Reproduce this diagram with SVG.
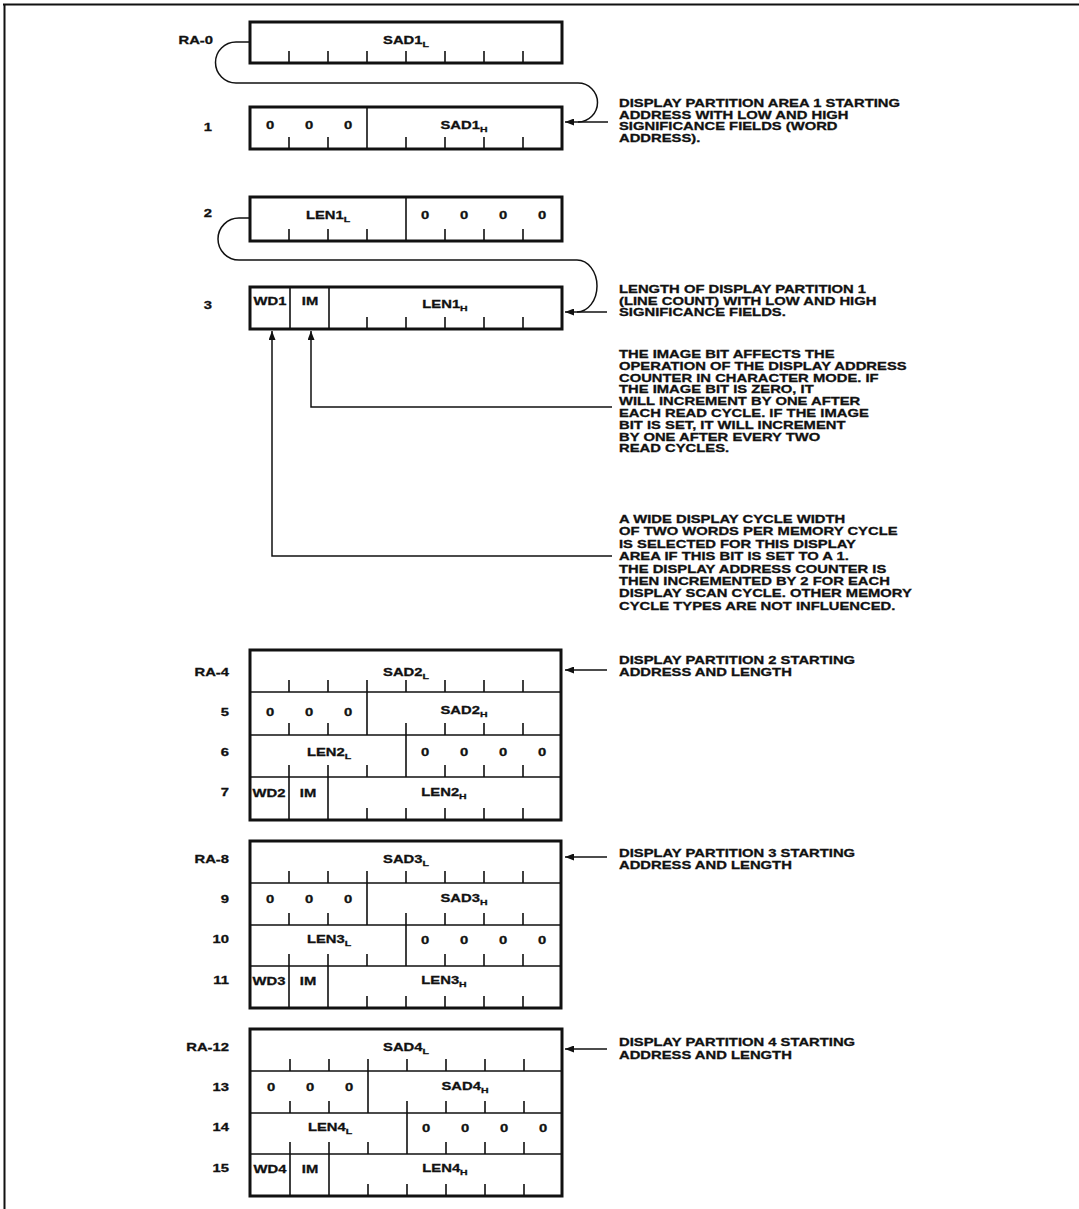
<svg xmlns="http://www.w3.org/2000/svg" width="1079" height="1209" viewBox="0 0 1079 1209">
<defs>
<style>
.t{font-family:"Liberation Sans",Arial,Helvetica,sans-serif;font-weight:bold;font-size:11.3px;fill:#111;stroke:#111;stroke-width:0.3}
.m{text-anchor:middle}
.e{text-anchor:end}
.s{font-size:8px}
.box{fill:#fff;stroke:#111;stroke-width:3}
.div{stroke:#111;stroke-width:1.6;fill:none}
.tk{stroke:#111;stroke-width:1.6}
.frame{stroke:#111;stroke-width:2;fill:none}
.cn{stroke:#111;stroke-width:1.5;fill:none}
</style>
<marker id="ah" markerWidth="9" markerHeight="7" refX="9" refY="3.5" orient="auto" markerUnits="userSpaceOnUse">
<path d="M0,0 L9,3.5 L0,7 z" fill="#111"/>
</marker>
</defs>
<rect width="1079" height="1209" fill="#fff"/>
<g id="frame">
<path class="frame" d="M3,4.5 H1079 M4.5,4 V1209"/>
</g>

<g id="connectors">
<path class="cn" d="M250,42 H236 A20.5,20.5 0 0 0 236,83 H578 A19.5,19.5 0 0 1 578,122"/>
<line class="cn" x1="608" y1="122" x2="565" y2="122" marker-end="url(#ah)"/>
<path class="cn" d="M250,218 H239 A21,21 0 0 0 239,260 H577 A20,26 0 0 1 577,312"/>
<line class="cn" x1="607" y1="312" x2="565" y2="312" marker-end="url(#ah)"/>
<path class="cn" d="M612,407 H311 V331" marker-end="url(#ah)"/>
<path class="cn" d="M612,556 H272 V331" marker-end="url(#ah)"/>
<line class="cn" x1="607" y1="670" x2="565" y2="670" marker-end="url(#ah)"/>
<line class="cn" x1="607" y1="857" x2="565" y2="857" marker-end="url(#ah)"/>
<line class="cn" x1="607" y1="1049" x2="565" y2="1049" marker-end="url(#ah)"/>
</g>

<g id="ra0">
<rect class="box" x="250" y="22" width="312" height="41"/>
<path class="tk" d="M289,51V63M328,51V63M367,51V63M406,51V63M445,51V63M484,51V63M523,51V63"/>
<text class="t e" transform="translate(213,44) scale(1.31,1)">RA-0</text>
<text class="t m" transform="translate(406,44) scale(1.31,1)">SAD1<tspan class="s" dy="3">L</tspan></text>
</g>
<g id="ra1">
<rect class="box" x="250" y="107" width="312" height="42"/>
<path class="div" d="M367,107V149"/>
<path class="tk" d="M289,137V149M328,137V149M406,137V149M445,137V149M484,137V149M523,137V149"/>
<text class="t e" transform="translate(212,131) scale(1.31,1)">1</text>
<text class="t m" transform="translate(270,129) scale(1.31,1)">0</text>
<text class="t m" transform="translate(309,129) scale(1.31,1)">0</text>
<text class="t m" transform="translate(348,129) scale(1.31,1)">0</text>
<text class="t m" transform="translate(464,129) scale(1.31,1)">SAD1<tspan class="s" dy="3">H</tspan></text>
</g>
<g id="ra2">
<rect class="box" x="250" y="197" width="312" height="44"/>
<path class="div" d="M406,197V241"/>
<path class="tk" d="M289,229V241M328,229V241M367,229V241M445,229V241M484,229V241M523,229V241"/>
<text class="t e" transform="translate(212,217) scale(1.31,1)">2</text>
<text class="t m" transform="translate(328,219) scale(1.31,1)">LEN1<tspan class="s" dy="3">L</tspan></text>
<text class="t m" transform="translate(425,219) scale(1.31,1)">0</text>
<text class="t m" transform="translate(464,219) scale(1.31,1)">0</text>
<text class="t m" transform="translate(503,219) scale(1.31,1)">0</text>
<text class="t m" transform="translate(542,219) scale(1.31,1)">0</text>
</g>
<g id="ra3">
<rect class="box" x="250" y="287" width="312" height="42"/>
<path class="div" d="M290,287V329M329,287V329"/>
<path class="tk" d="M367,317V329M406,317V329M445,317V329M484,317V329M523,317V329"/>
<text class="t e" transform="translate(212,309) scale(1.31,1)">3</text>
<text class="t m" transform="translate(270,305) scale(1.31,1)">WD1</text>
<text class="t m" transform="translate(310,305) scale(1.31,1)">IM</text>
<text class="t m" transform="translate(445,308) scale(1.31,1)">LEN1<tspan class="s" dy="3">H</tspan></text>
</g>

<g id="note1">
<text class="t" transform="translate(619,107) scale(1.31,1)">DISPLAY PARTITION AREA 1 STARTING</text>
<text class="t" transform="translate(619,118.7) scale(1.31,1)">ADDRESS WITH LOW AND HIGH</text>
<text class="t" transform="translate(619,130.4) scale(1.31,1)">SIGNIFICANCE FIELDS (WORD</text>
<text class="t" transform="translate(619,142.1) scale(1.31,1)">ADDRESS).</text>
</g>
<g id="note2">
<text class="t" transform="translate(619,293) scale(1.31,1)">LENGTH OF DISPLAY PARTITION 1</text>
<text class="t" transform="translate(619,304.7) scale(1.31,1)">(LINE COUNT) WITH LOW AND HIGH</text>
<text class="t" transform="translate(619,316.4) scale(1.31,1)">SIGNIFICANCE FIELDS.</text>
</g>
<g id="note3">
<text class="t" transform="translate(619,358) scale(1.31,1)">THE IMAGE BIT AFFECTS THE</text>
<text class="t" transform="translate(619,369.8) scale(1.31,1)">OPERATION OF THE DISPLAY ADDRESS</text>
<text class="t" transform="translate(619,381.6) scale(1.31,1)">COUNTER IN CHARACTER MODE. IF</text>
<text class="t" transform="translate(619,393.4) scale(1.31,1)">THE IMAGE BIT IS ZERO, IT</text>
<text class="t" transform="translate(619,405.2) scale(1.31,1)">WILL INCREMENT BY ONE AFTER</text>
<text class="t" transform="translate(619,417) scale(1.31,1)">EACH READ CYCLE. IF THE IMAGE</text>
<text class="t" transform="translate(619,428.8) scale(1.31,1)">BIT IS SET, IT WILL INCREMENT</text>
<text class="t" transform="translate(619,440.6) scale(1.31,1)">BY ONE AFTER EVERY TWO</text>
<text class="t" transform="translate(619,452.4) scale(1.31,1)">READ CYCLES.</text>
</g>
<g id="note4">
<text class="t" transform="translate(619,523) scale(1.31,1)">A WIDE DISPLAY CYCLE WIDTH</text>
<text class="t" transform="translate(619,535.4) scale(1.31,1)">OF TWO WORDS PER MEMORY CYCLE</text>
<text class="t" transform="translate(619,547.8) scale(1.31,1)">IS SELECTED FOR THIS DISPLAY</text>
<text class="t" transform="translate(619,560.2) scale(1.31,1)">AREA IF THIS BIT IS SET TO A 1.</text>
<text class="t" transform="translate(619,572.6) scale(1.31,1)">THE DISPLAY ADDRESS COUNTER IS</text>
<text class="t" transform="translate(619,585) scale(1.31,1)">THEN INCREMENTED BY 2 FOR EACH</text>
<text class="t" transform="translate(619,597.4) scale(1.31,1)">DISPLAY SCAN CYCLE. OTHER MEMORY</text>
<text class="t" transform="translate(619,609.8) scale(1.31,1)">CYCLE TYPES ARE NOT INFLUENCED.</text>
</g>

<g id="part2">
<rect class="box" x="250" y="650" width="311" height="170"/>
<path class="div" d="M250,692H561M250,735H561M250,777H561M367,692V735M406,735V777M289,777V820M328,777V820"/>
<path class="tk" d="M289,680V692M328,680V692M367,680V692M406,680V692M445,680V692M484,680V692M523,680V692
M289,723V735M328,723V735M406,723V735M445,723V735M484,723V735M523,723V735
M289,765V777M328,765V777M367,765V777M445,765V777M484,765V777M523,765V777
M367,808V820M406,808V820M445,808V820M484,808V820M523,808V820"/>
<text class="t e" transform="translate(229,676) scale(1.31,1)">RA-4</text>
<text class="t e" transform="translate(229,716) scale(1.31,1)">5</text>
<text class="t e" transform="translate(229,756) scale(1.31,1)">6</text>
<text class="t e" transform="translate(229,796) scale(1.31,1)">7</text>
<text class="t m" transform="translate(406,676) scale(1.31,1)">SAD2<tspan class="s" dy="3">L</tspan></text>
<text class="t m" transform="translate(270,716) scale(1.31,1)">0</text>
<text class="t m" transform="translate(309,716) scale(1.31,1)">0</text>
<text class="t m" transform="translate(348,716) scale(1.31,1)">0</text>
<text class="t m" transform="translate(464,714) scale(1.31,1)">SAD2<tspan class="s" dy="3">H</tspan></text>
<text class="t m" transform="translate(329,756) scale(1.31,1)">LEN2<tspan class="s" dy="3">L</tspan></text>
<text class="t m" transform="translate(425,756) scale(1.31,1)">0</text>
<text class="t m" transform="translate(464,756) scale(1.31,1)">0</text>
<text class="t m" transform="translate(503,756) scale(1.31,1)">0</text>
<text class="t m" transform="translate(542,756) scale(1.31,1)">0</text>
<text class="t m" transform="translate(269,797) scale(1.31,1)">WD2</text>
<text class="t m" transform="translate(308,797) scale(1.31,1)">IM</text>
<text class="t m" transform="translate(444,796) scale(1.31,1)">LEN2<tspan class="s" dy="3">H</tspan></text>
<text class="t" transform="translate(619,664) scale(1.31,1)">DISPLAY PARTITION 2 STARTING</text>
<text class="t" transform="translate(619,676) scale(1.31,1)">ADDRESS AND LENGTH</text>
</g>

<g id="part3">
<rect class="box" x="250" y="841" width="311" height="167"/>
<path class="div" d="M250,883H561M250,925H561M250,966H561M367,883V925M406,925V966M289,966V1008M328,966V1008"/>
<path class="tk" d="M289,871V883M328,871V883M367,871V883M406,871V883M445,871V883M484,871V883M523,871V883
M289,913V925M328,913V925M406,913V925M445,913V925M484,913V925M523,913V925
M289,954V966M328,954V966M367,954V966M445,954V966M484,954V966M523,954V966
M367,996V1008M406,996V1008M445,996V1008M484,996V1008M523,996V1008"/>
<text class="t e" transform="translate(229,863) scale(1.31,1)">RA-8</text>
<text class="t e" transform="translate(229,903) scale(1.31,1)">9</text>
<text class="t e" transform="translate(229,943) scale(1.31,1)">10</text>
<text class="t e" transform="translate(229,984) scale(1.31,1)">11</text>
<text class="t m" transform="translate(406,863) scale(1.31,1)">SAD3<tspan class="s" dy="3">L</tspan></text>
<text class="t m" transform="translate(270,903) scale(1.31,1)">0</text>
<text class="t m" transform="translate(309,903) scale(1.31,1)">0</text>
<text class="t m" transform="translate(348,903) scale(1.31,1)">0</text>
<text class="t m" transform="translate(464,902) scale(1.31,1)">SAD3<tspan class="s" dy="3">H</tspan></text>
<text class="t m" transform="translate(329,943) scale(1.31,1)">LEN3<tspan class="s" dy="3">L</tspan></text>
<text class="t m" transform="translate(425,944) scale(1.31,1)">0</text>
<text class="t m" transform="translate(464,944) scale(1.31,1)">0</text>
<text class="t m" transform="translate(503,944) scale(1.31,1)">0</text>
<text class="t m" transform="translate(542,944) scale(1.31,1)">0</text>
<text class="t m" transform="translate(269,985) scale(1.31,1)">WD3</text>
<text class="t m" transform="translate(308,985) scale(1.31,1)">IM</text>
<text class="t m" transform="translate(444,984) scale(1.31,1)">LEN3<tspan class="s" dy="3">H</tspan></text>
<text class="t" transform="translate(619,857) scale(1.31,1)">DISPLAY PARTITION 3 STARTING</text>
<text class="t" transform="translate(619,869) scale(1.31,1)">ADDRESS AND LENGTH</text>
</g>

<g id="part4">
<rect class="box" x="250" y="1029" width="312" height="167"/>
<path class="div" d="M250,1071H562M250,1113H562M250,1154H562M368,1071V1113M407,1113V1154M290,1154V1196M329,1154V1196"/>
<path class="tk" d="M290,1059V1071M329,1059V1071M368,1059V1071M407,1059V1071M446,1059V1071M485,1059V1071M524,1059V1071
M290,1101V1113M329,1101V1113M407,1101V1113M446,1101V1113M485,1101V1113M524,1101V1113
M290,1142V1154M329,1142V1154M368,1142V1154M446,1142V1154M485,1142V1154M524,1142V1154
M368,1184V1196M407,1184V1196M446,1184V1196M485,1184V1196M524,1184V1196"/>
<text class="t e" transform="translate(229,1051) scale(1.31,1)">RA-12</text>
<text class="t e" transform="translate(229,1091) scale(1.31,1)">13</text>
<text class="t e" transform="translate(229,1131) scale(1.31,1)">14</text>
<text class="t e" transform="translate(229,1172) scale(1.31,1)">15</text>
<text class="t m" transform="translate(406,1051) scale(1.31,1)">SAD4<tspan class="s" dy="3">L</tspan></text>
<text class="t m" transform="translate(271,1091) scale(1.31,1)">0</text>
<text class="t m" transform="translate(310,1091) scale(1.31,1)">0</text>
<text class="t m" transform="translate(349,1091) scale(1.31,1)">0</text>
<text class="t m" transform="translate(465,1090) scale(1.31,1)">SAD4<tspan class="s" dy="3">H</tspan></text>
<text class="t m" transform="translate(330,1131) scale(1.31,1)">LEN4<tspan class="s" dy="3">L</tspan></text>
<text class="t m" transform="translate(426,1132) scale(1.31,1)">0</text>
<text class="t m" transform="translate(465,1132) scale(1.31,1)">0</text>
<text class="t m" transform="translate(504,1132) scale(1.31,1)">0</text>
<text class="t m" transform="translate(543,1132) scale(1.31,1)">0</text>
<text class="t m" transform="translate(270,1173) scale(1.31,1)">WD4</text>
<text class="t m" transform="translate(310,1173) scale(1.31,1)">IM</text>
<text class="t m" transform="translate(445,1172) scale(1.31,1)">LEN4<tspan class="s" dy="3">H</tspan></text>
<text class="t" transform="translate(619,1046) scale(1.31,1)">DISPLAY PARTITION 4 STARTING</text>
<text class="t" transform="translate(619,1059) scale(1.31,1)">ADDRESS AND LENGTH</text>
</g>
</svg>
